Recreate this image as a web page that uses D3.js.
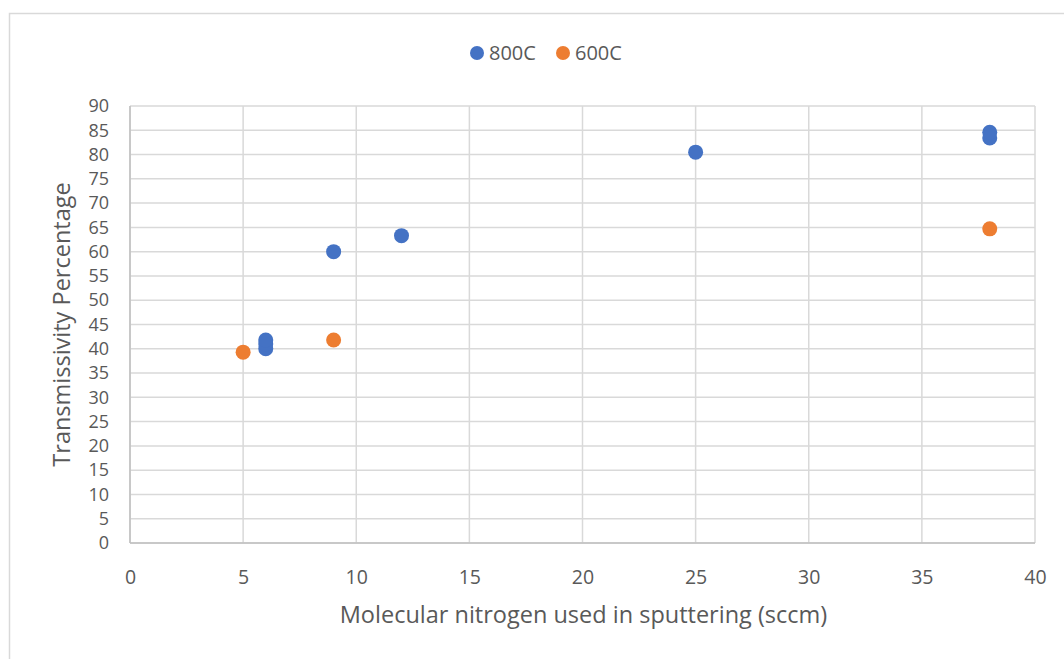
<!DOCTYPE html>
<html><head><meta charset="utf-8">
<script src="https://cdn.jsdelivr.net/npm/d3@7"></script>
<style>body{margin:0;background:#fff;}svg{display:block;}</style>
</head><body>
<svg id="c" width="1064" height="659"></svg>
<script>
const seriesNames = ["800C", "600C"];
const seriesColors = ["#4472C4", "#ED7D31"];
const x800 = [6, 6, 6, 9, 12, 25, 38, 38];
const y800 = [40.0, 41.0, 41.8, 60.0, 63.3, 80.5, 83.4, 84.6];
const x600 = [5, 9, 38];
const y600 = [39.3, 41.8, 64.7];
const xTicks = [0, 5, 10, 15, 20, 25, 30, 35, 40];
const yTicks = [0, 5, 10, 15, 20, 25, 30, 35, 40, 45, 50, 55, 60, 65, 70, 75, 80, 85, 90];
const xTitle = "Molecular nitrogen used in sputtering (sccm)";
const yTitle = "Transmissivity Percentage";

const svg = d3.select("#c");
const font = "'Open Sans', 'Noto Sans', sans-serif";
const textColor = "#595959";
const L = 130, R = 1035, T = 106, B = 543;

svg.append("rect").attr("x", 9.5).attr("y", 13.5).attr("width", 1100).attr("height", 700)
  .attr("fill", "#fff").attr("stroke", "#d9d9d9").attr("stroke-width", 1.5);

const x = d3.scaleLinear().domain([0, 40]).range([L, R]);
const y = d3.scaleLinear().domain([0, 90]).range([B, T]);

svg.append("g").selectAll("line").data(xTicks).join("line")
  .attr("x1", d => x(d)).attr("x2", d => x(d)).attr("y1", T).attr("y2", B)
  .attr("stroke", "#d9d9d9").attr("stroke-width", 1.5);
svg.append("g").selectAll("line").data(yTicks).join("line")
  .attr("x1", L).attr("x2", R).attr("y1", d => y(d)).attr("y2", d => y(d))
  .attr("stroke", "#d9d9d9").attr("stroke-width", 1.5);
svg.append("line").attr("x1", L).attr("x2", R).attr("y1", B).attr("y2", B).attr("stroke", "#bfbfbf").attr("stroke-width", 1.5);
svg.append("line").attr("x1", L).attr("x2", L).attr("y1", T).attr("y2", B).attr("stroke", "#bfbfbf").attr("stroke-width", 1.5);

const xAxis = svg.append("g").attr("transform", `translate(0,${B})`)
  .call(d3.axisBottom(x).tickValues(xTicks).tickSize(0).tickPadding(34));
const yAxis = svg.append("g").attr("transform", `translate(${L},0)`)
  .call(d3.axisLeft(y).tickValues(yTicks).tickSize(0).tickPadding(21));
[xAxis, yAxis].forEach(g => {
  g.select(".domain").remove();
  g.selectAll("text").attr("fill", textColor).style("font-family", font);
});
xAxis.selectAll("text").attr("dy", "0.35em").style("font-size", "19.5px");
yAxis.selectAll("text").style("font-size", "18px");

svg.append("text").attr("x", (L + R) / 2 + 1).attr("y", 615).attr("dy", "0.35em").attr("text-anchor", "middle")
  .attr("fill", textColor).style("font-family", font).style("font-size", "23.5px").text(xTitle);
svg.append("text").attr("transform", `translate(62,${(T + B) / 2}) rotate(-90)`).attr("dy", "0.35em").attr("text-anchor", "middle")
  .attr("fill", textColor).style("font-family", font).style("font-size", "23.5px").text(yTitle);

const s800 = x800.map((v, i) => ({x: v, y: y800[i]}));
const s600 = x600.map((v, i) => ({x: v, y: y600[i]}));
[s800, s600].forEach((s, k) => {
  svg.append("g").selectAll("circle").data(s).join("circle")
    .attr("cx", d => x(d.x)).attr("cy", d => y(d.y)).attr("r", 7.5)
    .attr("fill", seriesColors[k]);
});

const leg = [{cx: 477, tx: 489}, {cx: 563, tx: 575}];
seriesNames.forEach((n, k) => {
  svg.append("circle").attr("cx", leg[k].cx).attr("cy", 53).attr("r", 7).attr("fill", seriesColors[k]);
  svg.append("text").attr("x", leg[k].tx).attr("y", 53).attr("dy", "0.35em")
    .attr("fill", textColor).style("font-family", font).style("font-size", "20px").text(n);
});
</script>
</body></html>
